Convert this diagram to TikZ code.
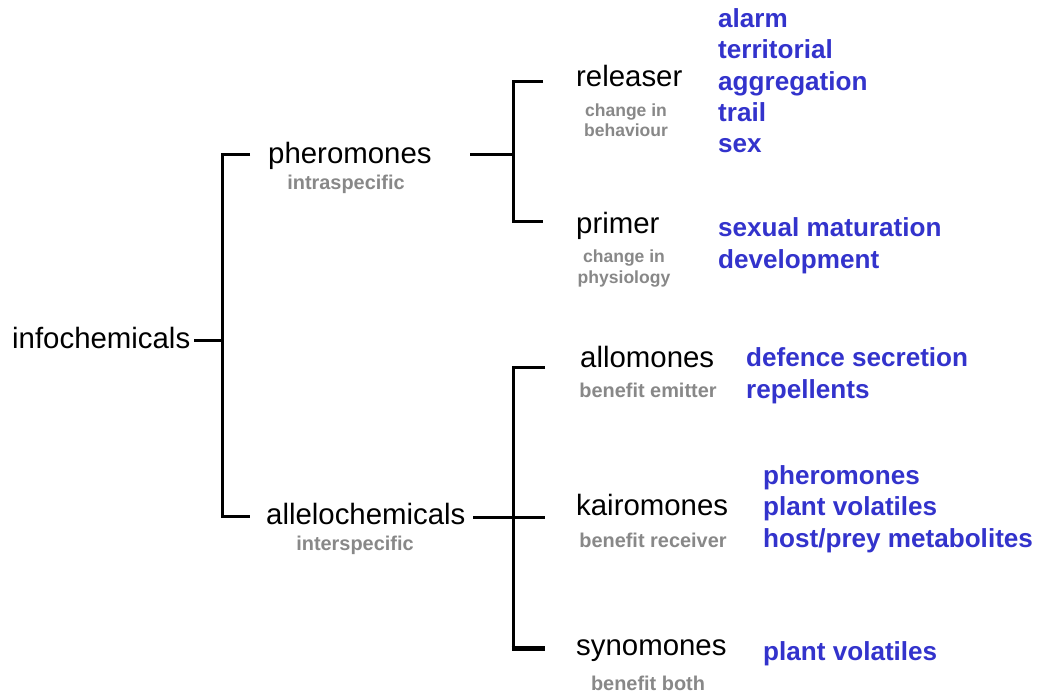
\documentclass[tikz,border=0pt]{standalone}
\usepackage{fontspec}
\setmainfont{Liberation Sans}
\definecolor{itemblue}{RGB}{51,51,204}
\definecolor{notegray}{RGB}{136,136,136}
\begin{document}
\begin{tikzpicture}[x=1bp,y=-1bp,
  cat/.style={inner sep=0pt, font=\fontsize{29.5}{33}\selectfont, text=black},
  note/.style={inner sep=0pt, font=\bfseries\fontsize{20}{21}\selectfont, text=notegray, align=center},
  smallnote/.style={note, font=\bfseries\fontsize{17.6}{21}\selectfont},
  items/.style={inner sep=0pt, font=\bfseries\fontsize{26.2}{31.5}\selectfont, text=itemblue, align=left},
  conn/.style={line width=3bp, line cap=butt, line join=miter}]
\useasboundingbox[fill=white] (0,0) rectangle (1039,695);

% level 0
\node[cat, anchor=base west] (info) at (12,348) {infochemicals};
% level 1
\node[cat, anchor=base west] (pher) at (268,164) {pheromones};
\node[note, anchor=base] (pherN) at (346,190) {intraspecific};
\node[cat, anchor=base west] (alle) at (266,524) {allelochemicals};
\node[note, anchor=base] (alleN) at (355,550) {interspecific};
% level 2 - pheromones (base anchor = last line's baseline)
\node[cat, anchor=base west] (rel) at (576,87) {releaser};
\node[smallnote, anchor=base] (relN) at (626,137) {change in\\behaviour};
\node[cat, anchor=base west] (prim) at (576,233) {primer};
\node[smallnote, anchor=base] (primN) at (624,283) {change in\\physiology};
\node[items, anchor=base west] (relI) at (718,153) {alarm\\territorial\\aggregation\\trail\\sex};
\node[items, anchor=base west] (primI) at (718,268) {sexual maturation\\development};
% level 2 - allelochemicals
\node[cat, anchor=base west] (allo) at (580,367) {allomones};
\node[note, anchor=base] (alloN) at (648,397) {benefit emitter};
\node[items, anchor=base west] (alloI) at (746,398) {defence secretion\\repellents};
\node[cat, anchor=base west] (kair) at (576,515) {kairomones};
\node[note, anchor=base] (kairN) at (653,547) {benefit receiver};
\node[items, anchor=base west] (kairI) at (763,547) {pheromones\\plant volatiles\\host/prey metabolites};
\node[cat, anchor=base west] (syno) at (576,655) {synomones};
\node[note, anchor=base] (synoN) at (648,690) {benefit both};
\node[items, anchor=base west] (synoI) at (763,660) {plant volatiles};

% connectors
\coordinate (j0) at (222,340);
\coordinate (b1t) at (250,155);
\coordinate (b1b) at (250,516);
\draw[conn] ([shift={(4,-8)}]info.base east) -- (j0);
\draw[conn] (b1t) -| (j0) |- (b1b);

\coordinate (pherOut) at (470,155);
\coordinate (j1) at (513,155);
\coordinate (b2t) at (543,82);
\coordinate (b2b) at (543,221);
\draw[conn] (pherOut) -- (j1);
\draw[conn] (b2t) -| (j1) |- (b2b);

\coordinate (alleOut) at (473,517);
\coordinate (j2) at (513,517);
\coordinate (b3t) at (545,367);
\coordinate (b3m) at (545,517);
\coordinate (b3b) at (545,648);
\draw[conn] (alleOut) -- (b3m);
\draw[conn] (b3t) -| (j2) |- (b3b);
\draw[line width=5bp] ([xshift=-1.5bp]j2 |- b3b) -- (b3b);
\end{tikzpicture}
\end{document}
